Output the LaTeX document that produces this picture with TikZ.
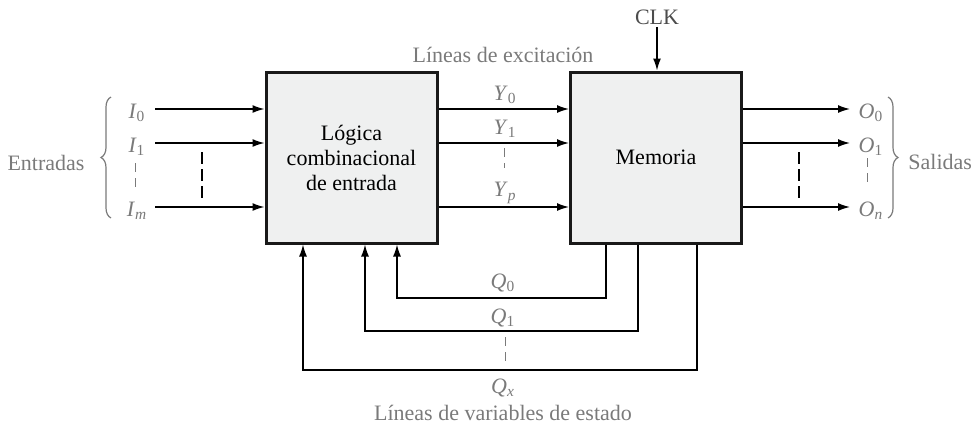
\documentclass[tikz,border=0pt]{standalone}
\usepackage{fontspec}
\setmainfont{Liberation Serif}
\usetikzlibrary{arrows.meta,decorations.pathreplacing}
\definecolor{boxfill}{HTML}{EFF0F0}
\colorlet{labelgray}{black!52}
\newcommand{\sigvar}[2]{\textit{#1}\textsubscript{#2}}
\tikzset{
  blockbox/.style={draw=black!90, line width=1.5pt, fill=boxfill, minimum width=85.5pt,
    minimum height=85.5pt, align=center, font=\fontsize{11}{12.5}\selectfont},
  sig/.style={line width=0.7pt, -{Latex[length=6pt,width=4pt]}},
  lbl/.style={text=labelgray, inner sep=1pt},
  gap/.style={labelgray, line width=0.5pt, dash pattern=on 4.5pt off 3pt},
  gapdark/.style={line width=0.7pt, dash pattern=on 6pt off 2.5pt},
  grp/.style={labelgray, line width=0.6pt, decorate, decoration={brace, amplitude=5pt}}
}
\begin{document}
\begin{tikzpicture}[x=0.5pt, y=-0.5pt, font=\fontsize{11}{13}\selectfont]
  \useasboundingbox (0,0) rectangle (980,430);
  % blocks
  \node[blockbox] (logic) at (351.5,157.5) {Lógica\\combinacional\\de entrada};
  \node[blockbox] (mem) at (656,157.5) {Memoria};
  % inputs, excitation lines and outputs
  \foreach \y/\n/\s/\t/\o in {109/0/0/0/0, 143/1/1/1/1, 207/m/\textit{m}/\textit{p}/\textit{n}} {
    \node[lbl] (in\n) at (137,\y+4) {\sigvar{I}{\s}};
    \node[lbl] (yl\n) at (505,\y-14) {\sigvar{Y}{\t}};
    \node[lbl] (out\n) at (871,\y+4) {\sigvar{O}{\o}};
    \coordinate (ins\n) at (155,\y);
    \coordinate (oute\n) at (850,\y);
    \draw[sig] (ins\n) -- (ins\n -| logic.west);
    \draw[sig] (logic.east |- ins\n) -- (mem.west |- ins\n);
    \draw[sig] (mem.east |- oute\n) -- (oute\n);
  }
  \draw[gapdark] (202,152) -- (202,198);
  \draw[gapdark] (799,152) -- (799,198);
  \draw[gap] (135,163) -- (135,190);
  \draw[gap] (504,148) -- (504,168);
  \draw[gap] (867,158) -- (867,183);
  % groups
  \draw[grp] (111,218) -- (111,97);
  \draw[grp] (888,97) -- (888,218);
  \node[lbl] (entradas) at (46,163) {Entradas};
  \node[lbl, anchor=west, inner sep=0pt] (salidas) at (908,162) {Salidas};
  \node[lbl] (exc) at (503,55) {Líneas de excitación};
  % clock
  \node[text=black!70, inner sep=1pt] (clk) at (657,17) {CLK};
  \draw[sig] (clk) -- (clk |- mem.north);
  % state feedback
  \coordinate (q0r) at (606,298);
  \coordinate (q0l) at (397,298);
  \coordinate (q1r) at (638,331);
  \coordinate (q1l) at (365,331);
  \coordinate (qxr) at (697,370);
  \coordinate (qxl) at (303,370);
  \draw[sig] (q0r |- mem.south) -- (q0r) -- (q0l) -- (q0l |- logic.south);
  \draw[sig] (q1r |- mem.south) -- (q1r) -- (q1l) -- (q1l |- logic.south);
  \draw[sig] (qxr |- mem.south) -- (qxr) -- (qxl) -- (qxl |- logic.south);
  \node[lbl] (q0) at (503,283) {\sigvar{Q}{0}};
  \node[lbl] (q1) at (503,318) {\sigvar{Q}{1}};
  \node[lbl] (qx) at (503,388) {\sigvar{Q}{\textit{x}}};
  \draw[gap] (505,337) -- (505,365);
  \node[lbl] (est) at (503,413) {Líneas de variables de estado};
\end{tikzpicture}
\end{document}
